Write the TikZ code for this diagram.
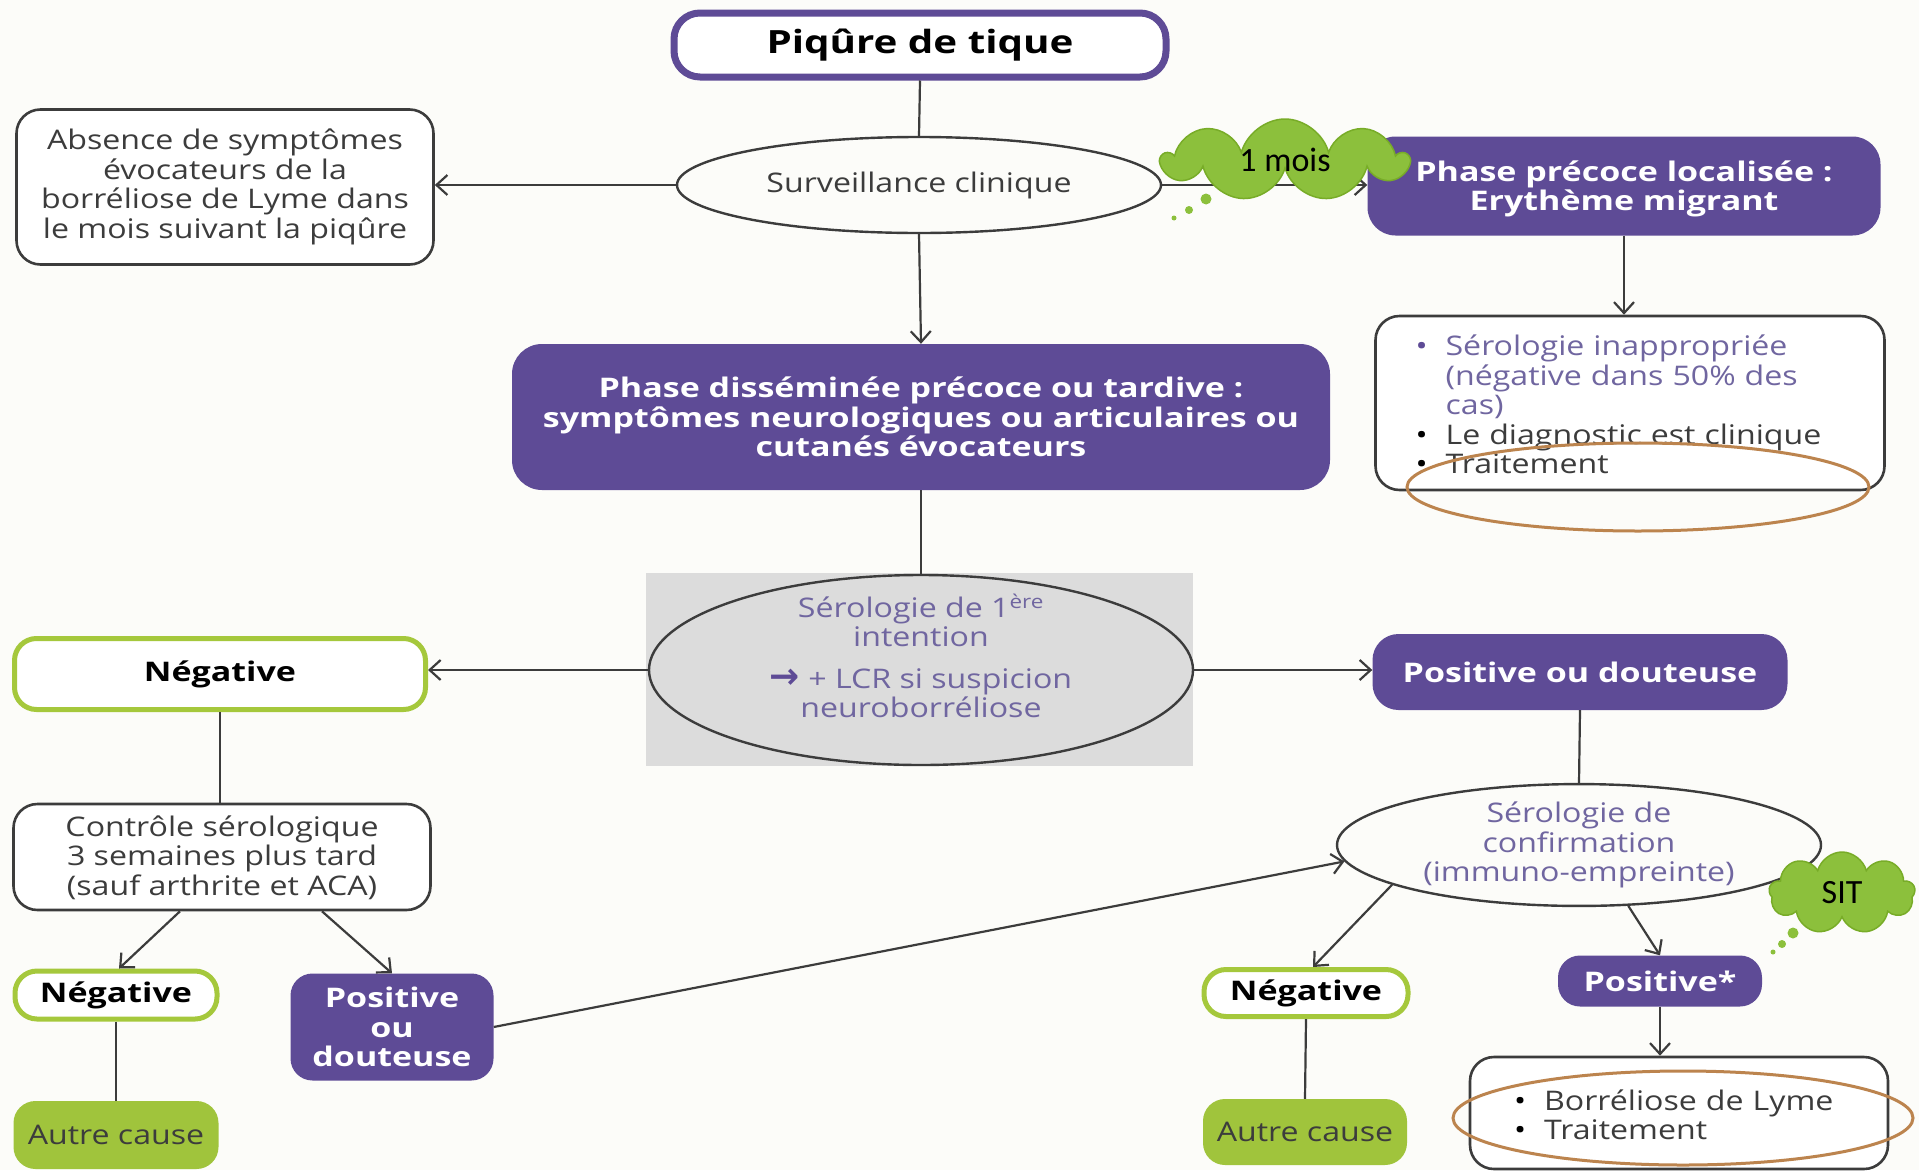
\documentclass[tikz,border=0pt]{standalone}
\usepackage{fontspec}
\setmainfont{Open Sans}[UprightFeatures={FakeStretch=1.19}, BoldFeatures={FakeStretch=1.26}]
\newfontfamily\cloudfont{Carlito}
\newfontfamily\symfont{DejaVu Sans}
\usetikzlibrary{shapes.geometric,shapes.symbols,arrows.meta}
\definecolor{purp}{RGB}{94,75,150}
\definecolor{linec}{RGB}{60,60,60}
\definecolor{txt}{RGB}{60,60,60}
\definecolor{ptxt}{RGB}{112,102,160}
\definecolor{grn}{RGB}{165,200,60}
\definecolor{grnfill}{RGB}{160,196,60}
\definecolor{cloudg}{RGB}{140,192,60}
\definecolor{cloude}{RGB}{120,172,40}
\definecolor{brownc}{RGB}{188,132,78}
\definecolor{greybg}{RGB}{220,220,220}
\definecolor{bg}{RGB}{252,252,249}
\tikzset{
  conn/.style={line width=2.2pt, draw=linec},
  arr/.style={conn, -{Straight Barb[length=11pt,width=20pt]}},
  tfont/.style={font=\fontsize{27}{29.5}\selectfont},
  bfont/.style={font=\fontsize{27}{29.5}\selectfont\bfseries},
  wbox/.style={draw=linec, line width=2.6pt, rounded corners=24pt, fill=white, align=center, text=txt, tfont, inner sep=0pt},
  pbox/.style={fill=purp, rounded corners=24pt, align=center, text=white, bfont, inner sep=0pt},
  gbox/.style={draw=grn, line width=5pt, fill=white, rounded corners=22pt, align=center, text=black, bfont, inner sep=0pt},
  abox/.style={fill=grnfill, rounded corners=22pt, align=center, text=txt, tfont, inner sep=0pt},
  ell/.style={ellipse, draw=linec, line width=2.4pt, inner sep=0pt, align=center, tfont},
  brownell/.style={ellipse, draw=brownc, line width=3pt, inner sep=0pt},
  cloudn/.style={cloud, cloud puffs=9, fill=cloudg, draw=cloude, line width=1.5pt, inner sep=0pt, font=\cloudfont\fontsize{34}{38}\selectfont, text=black},
  bub/.style={circle, fill=cloudg, inner sep=0pt}
}
\begin{document}
\begin{tikzpicture}[x=1pt,y=-1pt]
\useasboundingbox (0,0) rectangle (1919,1170);
\fill[bg] (0,0) rectangle (1919,1170);
\fill[greybg] (646,573) rectangle (1193,766);

% nodes
\node[draw=purp, line width=7pt, fill=white, rounded corners=26pt, minimum width=492pt, minimum height=64pt, inner sep=0pt,
      font=\fontsize{32}{36}\selectfont\bfseries, text=black] (piq) at (920,45) {Piqûre de tique};
\node[ell, minimum width=484pt, minimum height=96pt, text=txt] (surv) at (919,185) {Surveillance clinique};
\node[wbox, minimum width=417pt, minimum height=155pt] (abs) at (225,187)
  {Absence de symptômes\\ évocateurs de la\\ borréliose de Lyme dans\\ le mois suivant la piqûre};
\node[pbox, minimum width=513pt, minimum height=99pt, rounded corners=28pt] (phasep) at (1624,186)
  {\raisebox{-4pt}[\height][\depth]{\begin{tabular}{@{}c@{}}Phase précoce localisée :\\ Erythème migrant\end{tabular}}};
\node[wbox, minimum width=509pt, minimum height=174pt, align=left, inner xsep=40pt, text width=429pt] (list) at (1630,403)
  {\raisebox{-6pt}[\height][\depth]{\begin{tabular}{@{}l@{\hspace{18pt}}l@{}}
   \textcolor{purp}{\textbullet} & \textcolor{ptxt}{Sérologie inappropriée}\\
   & \textcolor{ptxt}{(négative dans 50\% des}\\
   & \textcolor{ptxt}{cas)}\\
   \textcolor{black}{\textbullet} & Le diagnostic est clinique\\
   \textcolor{black}{\textbullet} & Traitement
   \end{tabular}}};
\node[pbox, minimum width=818pt, minimum height=146pt, rounded corners=30pt] (phased) at (921,417)
  {Phase disséminée précoce ou tardive :\\ symptômes neurologiques ou articulaires ou\\ cutanés évocateurs};
\node[ell, minimum width=544pt, minimum height=190pt] (ser1) at (921,670) {};
\node[align=center, tfont, text=ptxt, inner sep=0pt] (ser1t) at (921,656)
  {Sérologie de 1\textsuperscript{ère}\\ intention\\[12pt]
   {\symfont\bfseries\fontsize{36}{29.5}\selectfont\color{purp}→} + LCR si suspicion\\ neuroborréliose};
\node[gbox, minimum width=411pt, minimum height=71pt] (neg1) at (220,674) {Négative};
\node[pbox, minimum width=415pt, minimum height=76pt, rounded corners=26pt] (posd) at (1580,672) {Positive ou douteuse};
\node[wbox, minimum width=417pt, minimum height=106pt] (ctrl) at (222,857)
  {\raisebox{-3pt}[\height][\depth]{\begin{tabular}{@{}c@{}}Contrôle sérologique\\ 3 semaines plus tard\\ (sauf arthrite et ACA)\end{tabular}}};
\node[gbox, minimum width=202pt, minimum height=48pt] (neg2) at (116,995) {Négative};
\node[pbox, minimum width=203pt, minimum height=107pt, rounded corners=22pt] (pos2) at (392,1027) {Positive\\ ou\\ douteuse};
\node[abox, minimum width=205pt, minimum height=68pt] (auto1) at (116,1135) {Autre cause};
\node[ell, minimum width=484pt, minimum height=116pt, text=ptxt] (conf) at (1579,845)
  {Sérologie de\\ confirmation\\ (immuno-empreinte)};
\node[gbox, minimum width=204pt, minimum height=47pt] (neg3) at (1306,993) {Négative};
\node[abox, minimum width=204pt, minimum height=66pt] (auto2) at (1305,1132) {Autre cause};
\node[pbox, minimum width=204pt, minimum height=51pt, rounded corners=22pt] (posstar) at (1660,981) {Positive*};
\node[wbox, minimum width=418pt, minimum height=112pt, align=left, inner xsep=44pt, text width=330pt] (borr) at (1679,1113)
  {\raisebox{-6pt}[\height][\depth]{\begin{tabular}{@{}l@{\hspace{18pt}}l@{}}
   \textcolor{black}{\textbullet} & Borréliose de Lyme\\
   \textcolor{black}{\textbullet} & Traitement
   \end{tabular}}};

% connectors
\draw[conn] (piq.south) -- (surv.north);
\draw[arr] (surv.west) -- (surv.west -| abs.east);
\draw[arr] (surv.south) -- (phased.north);
\draw[arr] (surv.east) -- (surv.east -| phasep.west);
\draw[arr] (phasep.south) -- (phasep.south |- list.north);
\draw[conn] (phased.south) -- (ser1.north);
\draw[arr] (ser1.west) -- (ser1.west -| neg1.east);
\draw[arr] (ser1.east) -- (ser1.east -| posd.west);
\draw[conn] (neg1.south) -- (neg1.south |- ctrl.north);
\draw[arr] ([xshift=-42pt]ctrl.south) -- ([xshift=3pt]neg2.north);
\draw[arr] ([xshift=100pt]ctrl.south) -- (pos2.north);
\draw[conn] (neg2.south) -- (auto1.north);
\draw[arr] (pos2.east) -- (conf.184);
\draw[conn] (posd.south) -- (conf.north);
\draw[arr] (conf.192) -- ([xshift=7pt]neg3.north);
\draw[arr] (conf.-51) -- (posstar.north);
\draw[conn] (neg3.south) -- (auto2.north);
\draw[arr] (posstar.south) -- (posstar.south |- borr.north);

% highlights
\node[brownell, minimum width=462pt, minimum height=88pt] (hl1) at (1638,487) {};
\node[brownell, minimum width=460pt, minimum height=94pt] (hl2) at (1683,1118) {};

% clouds
\node[cloudn, minimum width=244pt, minimum height=82pt, aspect=2.8] (c1) at (1285,160) {1 mois};
\node[bub, minimum size=11pt] (b11) at (1206,199) {};
\node[bub, minimum size=8pt] (b12) at (1189,210) {};
\node[bub, minimum size=5pt] (b13) at (1174,218) {};
\node[cloudn, minimum width=146pt, minimum height=82pt, aspect=1.7] (c2) at (1842,893) {SIT};
\node[bub, minimum size=11pt] (b21) at (1793,933) {};
\node[bub, minimum size=8pt] (b22) at (1782,944) {};
\node[bub, minimum size=5pt] (b23) at (1773,952) {};
\end{tikzpicture}
\end{document}
